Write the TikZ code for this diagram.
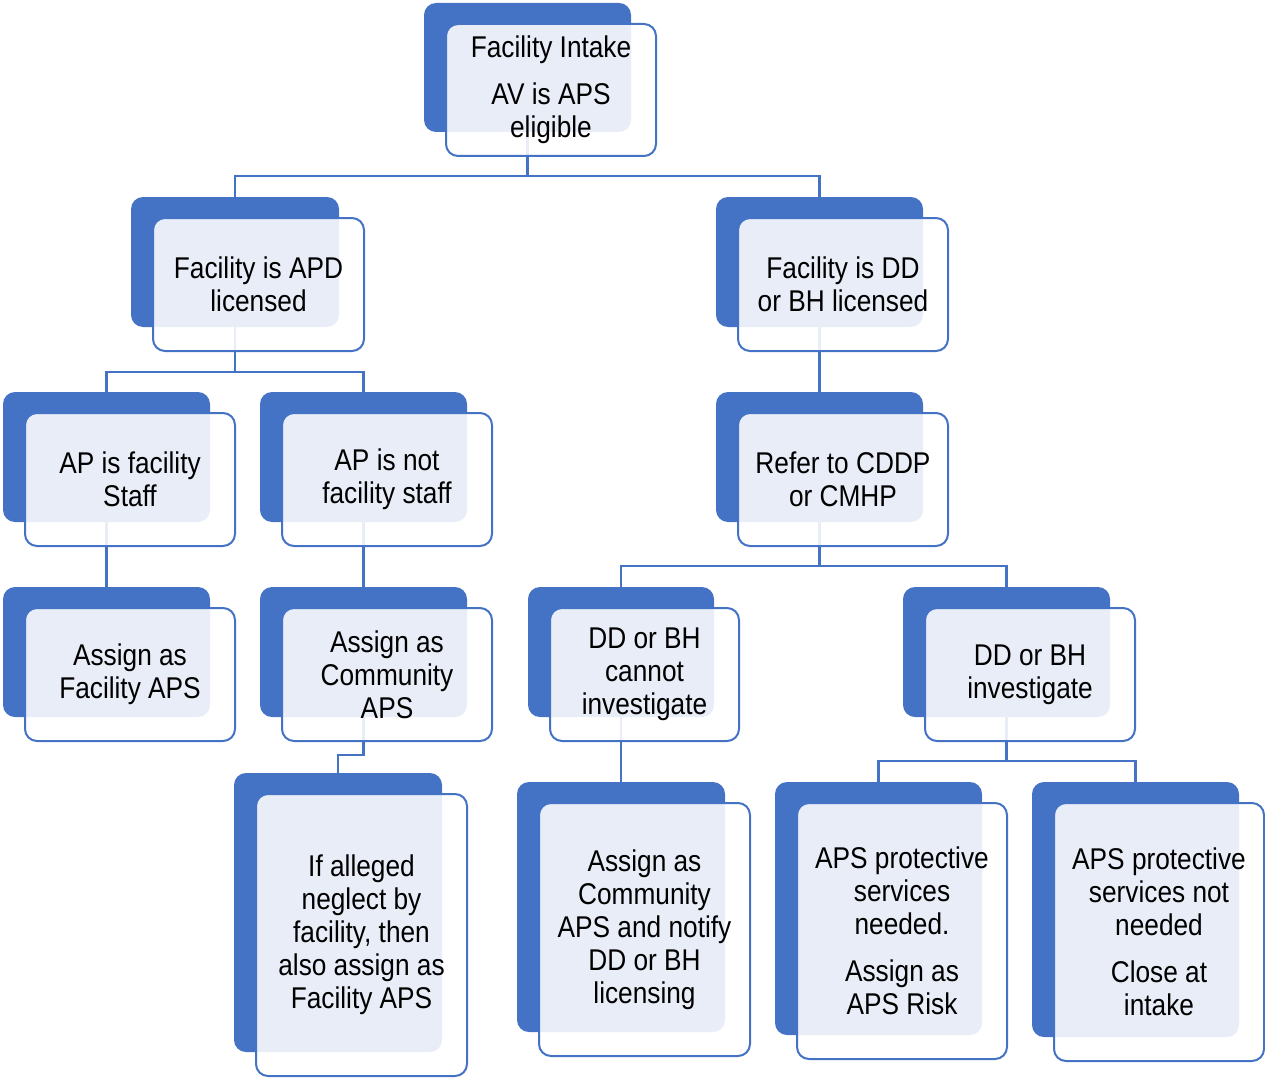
\documentclass[tikz,border=0pt]{standalone}
\usepackage{fontspec}
\setmainfont{Liberation Sans}[FakeStretch=0.875]
\usetikzlibrary{calc}
\definecolor{accblue}{HTML}{4472C4}
\pgfdeclarelayer{bg}
\pgfsetlayers{bg,main}
\tikzset{
  backbox/.style={fill=accblue, rounded corners=12pt, inner sep=0pt, outer sep=0pt},
  frontbox/.style={draw=accblue, line width=2pt, fill=white, fill opacity=0.88, text opacity=1,
    rounded corners=12pt, inner sep=0pt, outer sep=0pt, align=center, text=black,
    font=\fontsize{30}{33}\selectfont},
  conn/.style={draw=accblue, line width=2.2pt}
}
\newcommand\twobox[6]{%
  \node[backbox, minimum width={#4-#2}, minimum height={#5-#3}] (#1) at ({(#2+#4)/2},{(#3+#5)/2}) {};
  \node[frontbox, minimum width={#4-#2+3}, minimum height={#5-#3+3}] (#1f) at ({(#2+#4)/2+23.5},{(#3+#5)/2+22.5}) {#6};
}
\begin{document}
\begin{tikzpicture}[x=1pt,y=-1pt]
\useasboundingbox (0,0) rectangle (1265,1078);
\twobox{b1}{424}{3}{631}{132}{Facility Intake\\[14pt]AV is APS\\eligible}
\twobox{b2}{131}{197}{339}{327}{Facility is APD\\licensed}
\twobox{b3}{716}{197}{923}{327}{Facility is DD\\or BH licensed}
\twobox{b4}{3}{392}{210}{522}{AP is facility\\Staff}
\twobox{b5}{260}{392}{467}{522}{AP is not\\facility staff}
\twobox{b6}{716}{392}{923}{522}{Refer to CDDP\\or CMHP}
\twobox{b7}{3}{587}{210}{717}{Assign as\\Facility APS}
\twobox{b8}{260}{587}{467}{717}{Assign as\\Community\\APS}
\twobox{b9}{528}{587}{714}{717}{DD or BH\\cannot\\investigate}
\twobox{b10}{903}{587}{1110}{717}{DD or BH\\investigate}
\twobox{b11}{234}{773}{442}{1052}{If alleged\\neglect by\\facility, then\\also assign as\\Facility APS}
\twobox{b12}{517}{782}{725}{1032}{Assign as\\Community\\APS and notify\\DD or BH\\licensing}
\twobox{b13}{775}{782}{982}{1035}{APS protective\\services\\needed.\\[14pt]Assign as\\APS Risk}
\twobox{b14}{1032}{782}{1239}{1037}{APS protective\\services not\\needed\\[14pt]Close at\\intake}
\begin{pgfonlayer}{bg}
\draw[conn] (b1.south) -- ++(0,44) -| (b2.north);
\draw[conn] (b1.south) -- ++(0,44) -| (b3.north);
\draw[conn] (b2.south) -- ++(0,45) -| (b4.north);
\draw[conn] (b2.south) -- ++(0,45) -| (b5.north);
\draw[conn] (b4.south) -- (b7.north);
\draw[conn] (b5.south) -- (b8.north);
\draw[conn] (b8.south) -- ++(0,38) -| (b11.north);
\draw[conn] (b3.south) -- (b6.north);
\draw[conn] (b6.south) -- ++(0,44) -| (b9.north);
\draw[conn] (b6.south) -- ++(0,44) -| (b10.north);
\draw[conn] (b9.south) -- (b12.north);
\draw[conn] (b10.south) -- ++(0,44) -| (b13.north);
\draw[conn] (b10.south) -- ++(0,44) -| (b14.north);
\end{pgfonlayer}
\end{tikzpicture}
\end{document}
